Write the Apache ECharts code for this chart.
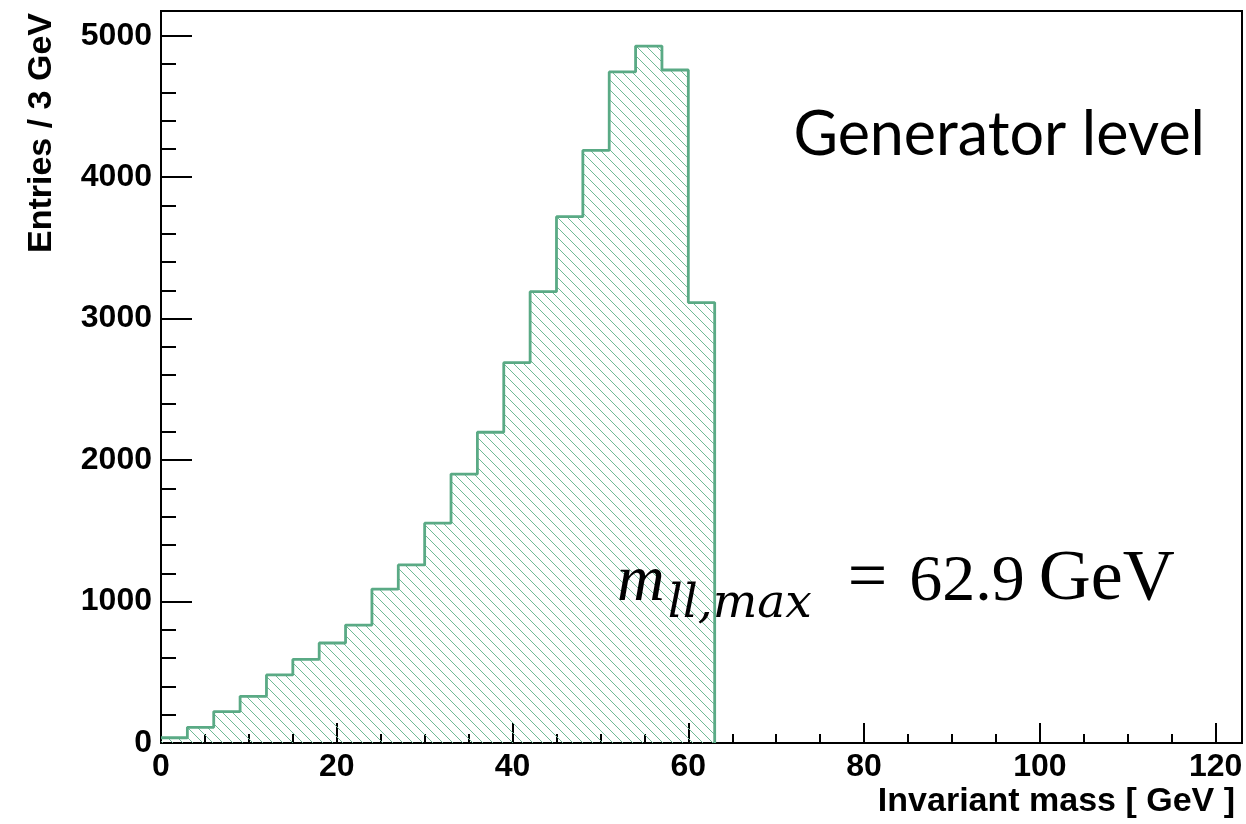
<!DOCTYPE html>
<html>
<head>
<meta charset="utf-8">
<script src="https://cdn.jsdelivr.net/npm/echarts@6/dist/echarts.min.js"></script>
<style>
html,body{margin:0;padding:0;background:#fff;}
#chart{width:1246px;height:824px;}
</style>
</head>
<body>
<div id="chart"></div>
<script>
// ---- data ----
const binWidth = 3; // GeV
const binStart = 0;
const counts = [37, 111, 222, 330, 481, 591, 707, 834, 1088, 1259, 1554, 1901, 2197, 2689, 3191, 3721, 4189, 4744, 4927, 4758, 3114];
const xMajorTicks = [0, 20, 40, 60, 80, 100, 120];
const xMinorTicks = [5, 10, 15, 25, 30, 35, 45, 50, 55, 65, 70, 75, 85, 90, 95, 105, 110, 115];
const yMajorTicks = [0, 1000, 2000, 3000, 4000, 5000];
const yMinorTicks = [200, 400, 600, 800, 1200, 1400, 1600, 1800, 2200, 2400, 2600, 2800, 3200, 3400, 3600, 3800, 4200, 4400, 4600, 4800];
const xRange = [0, 123];
const yRange = [0, 5175];
const xTitle = 'Invariant mass [ GeV ]';
const yTitle = 'Entries / 3 GeV';
const label1 = 'Generator level';
const mathParts = {sym: 'm', sub: 'll,max', eq: '=', val: '62.9', unit: 'GeV'};

// histogram outline points (step 'end')
const pts = counts.map((c, i) => [binStart + i * binWidth, c]);
const lastEdge = binStart + counts.length * binWidth;
pts.push([lastEdge, counts[counts.length - 1]]);
pts.push([lastEdge, 0]);

// hatch pattern
const pat = document.createElement('canvas');
const P = 10;
pat.width = P; pat.height = P;
const pc = pat.getContext('2d');
pc.strokeStyle = '#6fba96';
pc.lineWidth = 1;
pc.beginPath();
pc.moveTo(-1, -1); pc.lineTo(P + 1, P + 1);
pc.moveTo(-1, P - 1); pc.lineTo(1, P + 1);
pc.moveTo(P - 1, -1); pc.lineTo(P + 1, 1);
pc.stroke();

const green = '#5aaa85';
const lblFont = {fontFamily: 'Liberation Sans', fontWeight: 'bold', fontSize: 32, color: '#000'};

const chart = echarts.init(document.getElementById('chart'), null, {renderer: 'canvas'});
const grid = {left: 161, top: 11, right: 4, bottom: 81, show: true, borderColor: '#000', borderWidth: 2, backgroundColor: 'transparent'};

function xAx(ticks, len, showLabel) {
  return {
    type: 'value', min: xRange[0], max: xRange[1], position: 'bottom',
    axisLine: {show: showLabel, onZero: false, lineStyle: {color: '#000', width: 2}},
    axisTick: {show: true, inside: true, length: len, customValues: ticks, lineStyle: {color: '#000', width: 2}},
    axisLabel: {show: showLabel, customValues: ticks, margin: 8, formatter: v => String(v), ...lblFont},
    splitLine: {show: false}
  };
}
function yAx(ticks, len, showLabel) {
  return {
    type: 'value', min: yRange[0], max: yRange[1], position: 'left',
    axisLine: {show: showLabel, onZero: false, lineStyle: {color: '#000', width: 2}},
    axisTick: {show: true, inside: true, length: len, customValues: ticks, lineStyle: {color: '#000', width: 2}},
    axisLabel: {show: showLabel, customValues: ticks, margin: 9, formatter: v => String(v), ...lblFont},
    splitLine: {show: false}
  };
}

chart.setOption({
  animation: false,
  grid: grid,
  xAxis: [xAx(xMajorTicks, 20, true), xAx(xMinorTicks, 9, false)],
  yAxis: [yAx(yMajorTicks, 31, true), yAx(yMinorTicks, 15, false)],
  series: [{
    type: 'line',
    xAxisIndex: 0, yAxisIndex: 0,
    step: 'end',
    data: pts,
    showSymbol: false,
    symbol: 'none',
    lineStyle: {color: green, width: 2.8},
    areaStyle: {color: {image: pat, repeat: 'repeat'}, opacity: 1, origin: 'start'},
    clip: true,
    z: 1
  }],
  graphic: [
    {type: 'text', x: 1235, y: 802, z: 10,
     style: {text: xTitle, textAlign: 'right', textVerticalAlign: 'middle', font: 'bold 34px "Liberation Sans"', fill: '#000'}},
    {type: 'text', x: 42, y: 13, rotation: Math.PI / 2, z: 10,
     style: {text: yTitle, textAlign: 'right', textVerticalAlign: 'middle', font: 'bold 34px "Liberation Sans"', fill: '#000'}},
    {type: 'text', x: 1205, y: 135, z: 10,
     style: {text: label1, textAlign: 'right', textVerticalAlign: 'middle', font: '61px Lato', fill: '#000'}},
    {type: 'text', x: 617, y: 580, z: 10,
     style: {
       text: '{m|' + mathParts.sym + '}{s|' + mathParts.sub + '}{e|' + mathParts.eq + '}{n|' + mathParts.val + '}{u|' + mathParts.unit + '}',
       textAlign: 'left', textVerticalAlign: 'middle',
       rich: {
         m: {font: 'italic 66px "Liberation Serif"', fill: '#000', verticalAlign: 'bottom'},
         s: {font: 'italic 47px "DejaVu Serif"', fill: '#000', verticalAlign: 'bottom', padding: [0, 0, -12, 3]},
         e: {font: '70px "Liberation Serif"', fill: '#000', verticalAlign: 'bottom', padding: [0, 22, 0, 36]},
         n: {font: '66px "Liberation Serif"', fill: '#000', verticalAlign: 'bottom', padding: [0, 14, 0, 0]},
         u: {font: '72px "Liberation Serif"', fill: '#000', verticalAlign: 'bottom'}
       }
     }}
  ]
});
</script>
</body>
</html>
